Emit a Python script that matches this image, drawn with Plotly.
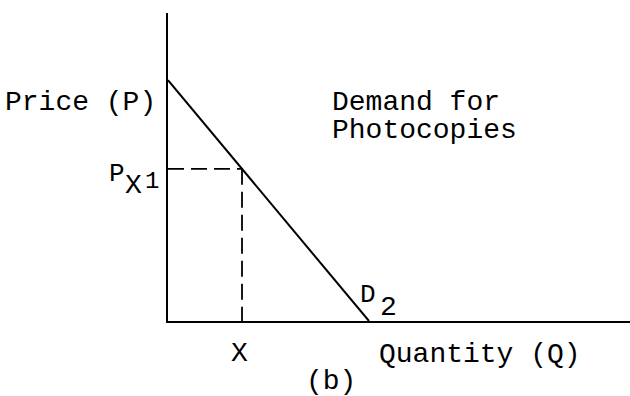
import plotly.graph_objects as go

# Data (arbitrary units)
p_intercept = 7.82     # price where demand meets the P axis
q_intercept = 4.35     # quantity where demand meets the Q axis
price_px1 = 4.94       # P_X1
quantity_x = q_intercept * (1 - price_px1 / p_intercept)  # X, on the demand line

x_range = [0, 10]
y_range = [0, 10]

FONT = "Liberation Mono, Courier New, monospace"
SIZE = 28

fig = go.Figure()

# Demand curve D2
fig.add_trace(go.Scatter(x=[0, q_intercept], y=[p_intercept, 0], mode="lines",
                         line=dict(color="black", width=2), hoverinfo="skip"))
# dashed guide lines
fig.add_trace(go.Scatter(x=[0, quantity_x], y=[price_px1, price_px1], mode="lines",
                         line=dict(color="black", width=1.8, dash="16px,7px"), hoverinfo="skip"))
fig.add_trace(go.Scatter(x=[quantity_x, quantity_x], y=[price_px1, 0], mode="lines",
                         line=dict(color="black", width=1.8, dash="16px,7px"), hoverinfo="skip"))

def ann(text, x, y, xanchor="center", yanchor="middle", size=SIZE):
    fig.add_annotation(text=text, x=x, y=y, xref="paper", yref="paper", showarrow=False,
                       xanchor=xanchor, yanchor=yanchor, borderpad=0, borderwidth=0,
                       font=dict(family=FONT, size=size, color="black"))

ann("Price (P)", -0.026, 0.708, xanchor="right")
ann("Demand for", 0.355, 0.708, xanchor="left")
ann("Photocopies", 0.355, 0.620, xanchor="left")
# P_X1 label
ann("P", -0.110, 0.477, size=26)
ann("X", -0.075, 0.440, size=28)
ann("1", -0.034, 0.452, size=24)
# D_2 label
ann("D", 0.433, 0.084, size=26)
ann("2", 0.477, 0.045, size=28)
# axis labels
ann("X", 0.154, -0.107)
ann("Quantity (Q)", 0.675, -0.110)
ann("(b)", 0.353, -0.195)

fig.update_layout(
    width=630, height=396,
    margin=dict(l=168, r=0, t=13, b=75),
    paper_bgcolor="white", plot_bgcolor="white",
    showlegend=False,
    xaxis=dict(range=x_range, showgrid=False, zeroline=False, showticklabels=False,
               ticks="", showline=True, linecolor="black", linewidth=2.4),
    yaxis=dict(range=y_range, showgrid=False, zeroline=False, showticklabels=False,
               ticks="", showline=True, linecolor="black", linewidth=2.4),
)

fig.write_html("out.html", config={"displayModeBar": False},
               post_script="document.body.style.margin='0';")
